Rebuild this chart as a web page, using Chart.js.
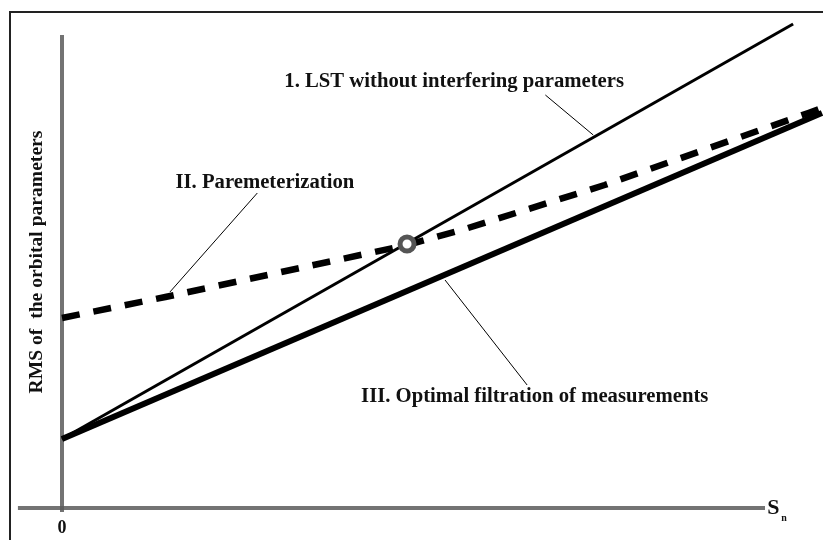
<!DOCTYPE html>
<html>
<head>
<meta charset="utf-8">
<script src="https://cdn.jsdelivr.net/npm/chart.js@4"></script>
<style>
  html, body { margin: 0; padding: 0; background: #fff; }
  #wrap { width: 823px; height: 540px; position: relative; }
</style>
</head>
<body>
<div id="wrap"><canvas id="chart"></canvas></div>
<script>
// curve values (x = S_n, y = RMS)
const lstX = [0, 9.62];
const lstY = [1.38, 9.68];

const paramX = [0, 1.36, 3.13, 4.54, 5.26, 7.14, 9.82, 10];
const paramY = [3.8, 4.22, 4.8, 5.26, 5.56, 6.46, 7.9, 8.0];

const optX = [0, 10];
const optY = [1.38, 7.9];

// crossing of LST and parameterization
const crossX = [4.54];
const crossY = [5.28];

// axis extents
const axisXRange = [-0.58, 9.25];
const axisYRange = [-0.08, 9.46];

// leader lines: [from label, to curve]
const leadLstX = [6.36, 6.99];
const leadLstY = [8.26, 7.46];
const leadParX = [2.57, 1.42];
const leadParY = [6.3, 4.32];
const leadOptX = [6.12, 5.04];
const leadOptY = [2.46, 4.56];

const curveNames = [
  "1. LST without interfering parameters",
  "II. Paremeterization",
  "III. Optimal filtration of measurements"
];
const yTitle = "RMS of  the orbital parameters";
const xTitle = "S";
const xTitleSub = "n";
const zeroLabel = "0";

function pts(xs, ys) {
  return xs.map((x, i) => ({ x: x, y: ys[i] }));
}

function lineSet(data, width, dash) {
  return {
    data: data,
    showLine: true,
    borderColor: "#000",
    borderWidth: width,
    borderDash: dash || [],
    pointRadius: 0,
    tension: 0,
    fill: false
  };
}

const frame = {
  id: "frame",
  beforeDraw(chart) {
    const ctx = chart.ctx;
    ctx.save();
    ctx.fillStyle = "#fff";
    ctx.fillRect(0, 0, chart.width, chart.height);
    ctx.strokeStyle = "#222";
    ctx.lineWidth = 2;
    ctx.beginPath();
    ctx.moveTo(10, chart.height + 5);
    ctx.lineTo(10, 12);
    ctx.lineTo(chart.width + 5, 12);
    ctx.stroke();
    ctx.restore();
  }
};

const labels = {
  id: "labels",
  afterDraw(chart) {
    const ctx = chart.ctx;
    const sx = chart.scales.x, sy = chart.scales.y;
    const serif = "'Liberation Serif', 'DejaVu Serif', serif";
    ctx.save();
    ctx.fillStyle = "#111";
    ctx.textBaseline = "middle";
    ctx.textAlign = "center";
    ctx.font = "bold 20.7px " + serif;
    ctx.fillText(curveNames[0], sx.getPixelForValue(5.16), sy.getPixelForValue(8.52));
    ctx.fillText(curveNames[1], sx.getPixelForValue(2.67), sy.getPixelForValue(6.5));
    ctx.fillText(curveNames[2], sx.getPixelForValue(6.22), sy.getPixelForValue(2.22));

    ctx.font = "bold 18px " + serif;
    ctx.fillText(zeroLabel, sx.getPixelForValue(0), sy.getPixelForValue(-0.4));

    ctx.textAlign = "left";
    ctx.font = "bold 22px " + serif;
    const sxp = sx.getPixelForValue(9.28);
    ctx.fillText(xTitle, sxp, sy.getPixelForValue(0));
    ctx.font = "bold 10px " + serif;
    ctx.fillText(xTitleSub, sxp + 14, sy.getPixelForValue(-0.2));

    ctx.translate(sx.getPixelForValue(-0.33), sy.getPixelForValue(4.92));
    ctx.rotate(-Math.PI / 2);
    ctx.textAlign = "center";
    ctx.font = "bold 19.6px " + serif;
    ctx.fillText(yTitle, 0, 0);
    ctx.restore();
  }
};

new Chart(document.getElementById("chart"), {
  type: "scatter",
  data: {
    datasets: [
      {
        data: pts(crossX, crossY),
        pointRadius: 7,
        pointBorderWidth: 5,
        pointBorderColor: "#555",
        pointBackgroundColor: "#fff",
        showLine: false
      },
      lineSet(pts(lstX, lstY), 3),
      lineSet(pts(paramX, paramY), 6.5, [18, 14]),
      lineSet(pts(optX, optY), 6),
      lineSet(pts(leadLstX, leadLstY), 1),
      lineSet(pts(leadParX, leadParY), 1),
      lineSet(pts(leadOptX, leadOptY), 1),
      Object.assign(lineSet(pts(axisXRange, [0, 0]), 4), { borderColor: "rgba(90,90,90,0.85)" }),
      Object.assign(lineSet(pts([0, 0], axisYRange), 4), { borderColor: "rgba(90,90,90,0.85)" })
    ]
  },
  options: {
    responsive: true,
    maintainAspectRatio: false,
    animation: false,
    layout: { padding: 0, autoPadding: false },
    plugins: { legend: { display: false }, tooltip: { enabled: false } },
    scales: {
      x: { type: "linear", display: false, min: -62 / 76, max: 761 / 76 },
      y: { type: "linear", display: false, min: -0.64, max: 10.16 }
    }
  },
  plugins: [frame, labels]
});
</script>
</body>
</html>
